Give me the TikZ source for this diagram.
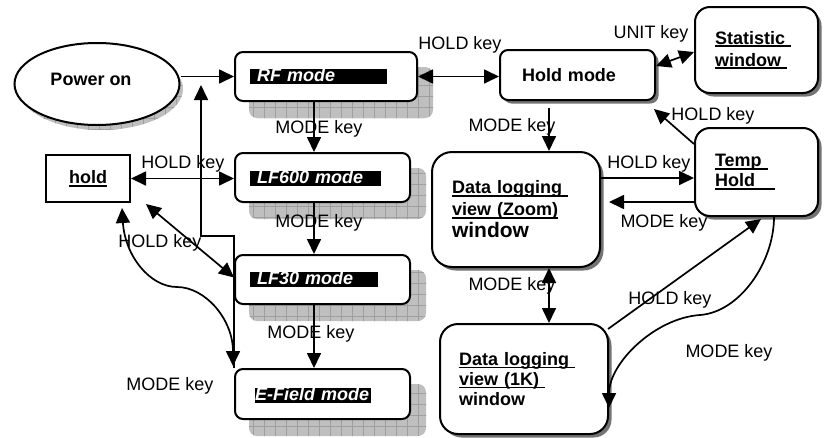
\documentclass[tikz,border=0pt]{standalone}
\usepackage{fontspec}
\setmainfont{Liberation Sans}
\usetikzlibrary{arrows.meta,shapes.geometric,calc,shadows,backgrounds,patterns.meta}
\newcommand{\ulx}[1]{\leavevmode\setbox0\hbox{#1}\rlap{\rule[-3pt]{\wd0}{1.8pt}}\box0}
\begin{document}
\begin{tikzpicture}[x=1pt,y=-1pt,
  lbl/.style={font=\fontsize{18}{21}\selectfont, inner sep=0pt},
  modebox/.style={draw, line width=2pt, rounded corners=8pt, fill=white, inner sep=0pt, minimum width=175pt, minimum height=49pt},
  modebar/.style={fill=black, text=white, font=\fontsize{18}{21}\selectfont\bfseries\itshape, inner ysep=0pt, text height=12.5pt, text depth=2.5pt, anchor=west, align=left},
  winbox/.style={draw, line width=2pt, fill=white, drop shadow={shadow xshift=3.5pt, shadow yshift=-3.5pt, opacity=1, fill=black!55}, font=\fontsize{18}{22}\selectfont\bfseries, align=left, inner ysep=0pt},
  arr/.style={line width=1.7pt, -{Triangle[length=15pt,width=14pt]}},
  darr/.style={line width=1.7pt, {Triangle[length=15pt,width=14pt]}-{Triangle[length=15pt,width=14pt]}},
  gridshadow/.style={fill=black!25,
    postaction={pattern={Lines[angle=0,distance=11pt,line width=0.6pt]}, pattern color=black!38},
    postaction={pattern={Lines[angle=90,distance=11pt,line width=0.6pt]}, pattern color=black!38}}
]
\useasboundingbox (0,0) rectangle (824,437);

% left part
\node[draw, ellipse, line width=2pt, fill=white, minimum width=165pt, minimum height=82pt, inner sep=0pt] (poweron) at (97,84) {};
\node[lbl, font=\fontsize{18}{21}\selectfont\bfseries] (powertxt) at (91,79) {Power on};

\node[modebox, minimum width=182pt] (rf) at (326,76.5) {};
\node[modebox] (lf600) at (322.5,177.5) {};
\node[modebox] (lf30) at (322.5,279.5) {};
\node[modebox, minimum height=50pt] (efield) at (322.5,394) {};

\node[modebar, text width=123pt, inner xsep=7pt] (rfbar) at (250,76.5) {RF mode};
\node[modebar, text width=117pt, inner xsep=7pt] (lf600bar) at (250,178) {LF600 mode};
\node[modebar, text width=114pt, inner xsep=7pt] (lf30bar) at (250,279.5) {LF30 mode};
\node[modebar, text width=116pt, inner xsep=0pt] (efbar) at (255,395) {E-Field mode};

\node[draw, line width=2pt, fill=white, minimum width=84pt, minimum height=47pt, inner sep=0pt, font=\fontsize{18}{21}\selectfont\bfseries] (hold) at (88,178.5) {\ulx{hold}};

% right part
\node[winbox, rounded corners=8pt, minimum width=155pt, minimum height=50pt, text width=111pt, inner xsep=22pt] (holdmode) at (577.5,75) {Hold mode};
\node[winbox, rounded corners=15pt, minimum width=123pt, minimum height=86pt, text width=83pt, inner xsep=20pt] (stat) at (756.5,50) {\ulx{Statistic\ }\\ \ulx{window\ }};
\node[winbox, rounded corners=15pt, minimum width=123pt, minimum height=88pt, text width=83pt, inner xsep=20pt, font=\fontsize{18}{20}\selectfont\bfseries] (temphold) at (756.5,172) {\ulx{Temp\ }\\ \ulx{Hold\hspace{20pt}}};
\node[winbox, rounded corners=20pt, minimum width=168pt, minimum height=115pt, text width=128pt, inner xsep=20pt] (zoomw) at (516,209.5) {\ulx{Data logging\ }\\ \ulx{view (Zoom)}\\ {\fontsize{21}{22.5}\selectfont window}};
\node[winbox, rounded corners=18pt, minimum width=168pt, minimum height=110pt, text width=130pt, inner xsep=19pt, font=\fontsize{18}{20}\selectfont\bfseries] (onek) at (524,379) {\ulx{Data logging\ }\\ \ulx{view (1K)\ }\\ window};

% shadows of mode boxes
\begin{scope}[on background layer]
  \foreach \n in {rf,lf600,lf30,efield}
    \path[gridshadow, rounded corners=8pt] ($(\n.north west)+(15,16)$) rectangle ($(\n.south east)+(15,16)$);
  \path[gridshadow] ($(poweron.center)+(4,5)$) ellipse [x radius=82pt, y radius=41pt];
\end{scope}

% labels
\node[lbl] (l1) at (460,45) {HOLD key};
\node[lbl] (l2) at (651,34) {UNIT key};
\node[lbl] (l3) at (713,116) {HOLD key};
\node[lbl] (l4) at (512,127) {MODE key};
\node[lbl] (l5) at (319,129) {MODE key};
\node[lbl] (l6) at (183,164) {HOLD key};
\node[lbl] (l7) at (649,164) {HOLD key};
\node[lbl] (l8) at (664,223) {MODE key};
\node[lbl] (l9) at (319,223) {MODE key};
\node[lbl] (l10) at (160,243) {HOLD key};
\node[lbl] (l11) at (311,334) {MODE key};
\node[lbl] (l12) at (512,286) {MODE key};
\node[lbl] (l13) at (670,300) {HOLD key};
\node[lbl] (l14) at (729,353) {MODE key};
\node[lbl] (l15) at (170,386) {MODE key};

\coordinate (lcurve) at (177,287);
\coordinate (mcurve) at (700,315);

% connectors left
\draw[arr] (poweron.east |- rf.west) -- (rf.west);
\draw[arr] ($(rf.south west)+(80,0)$) -- ($(lf600.north west)+(80,0)$);
\draw[arr] ($(lf600.south west)+(80,0)$) -- ($(lf30.north west)+(80,0)$);
\draw[arr] ($(lf30.south west)+(80,0)$) -- ($(efield.north west)+(80,0)$);
\draw[darr] (hold.east) -- (lf600.west |- hold.east);
\draw[darr] ($(hold.south east)+(15,1)$) -- ($(lf30.west)+(0,-2)$);
\draw[darr] ($(hold.south)+(34,5)$) .. controls +(3,48) and +(-27,0) .. (lcurve)
   .. controls +(28,0) and +(0,-47) .. ($(efield.north west)+(-1,-2)$);
\draw[arr] (efield.north west) -- ($(lf30.north west)+(0,-18)$) -| ($(rf.west)+(-33,8.5)$);

% connectors right
\draw[darr] (rf.east) -- (holdmode.west |- rf.east);
\draw[darr] ($(holdmode.east)+(0,-9)$) -- ($(stat.west)+(0,2)$);
\draw[arr] ($(temphold.north west)+(0,17)$) -- ($(holdmode.south east)+(-2,8)$);
\draw[arr] ($(holdmode.south west)+(50,7)$) -- ($(zoomw.north west)+(118,0)$);
\draw[arr] ($(zoomw.east)+(0,-31.5)$) -- ($(temphold.west)+(0,6)$);
\draw[arr] ($(temphold.west)+(0,30)$) -- ($(zoomw.east)+(8,-7.5)$);
\draw[darr] ($(zoomw.south west)+(118,0)$) -- ($(onek.north west)+(110,0)$);
\draw[arr] ($(onek.north east)+(-1,6)$) -- ($(temphold.south west)+(67,2)$);
\draw[arr] ($(temphold.south west)+(80,0)$) .. controls +(0,45) and +(40,-3) .. (mcurve)
   .. controls +(-45,3) and +(0,-45) .. ($(onek.east)+(0,29)$);
\end{tikzpicture}
\end{document}
